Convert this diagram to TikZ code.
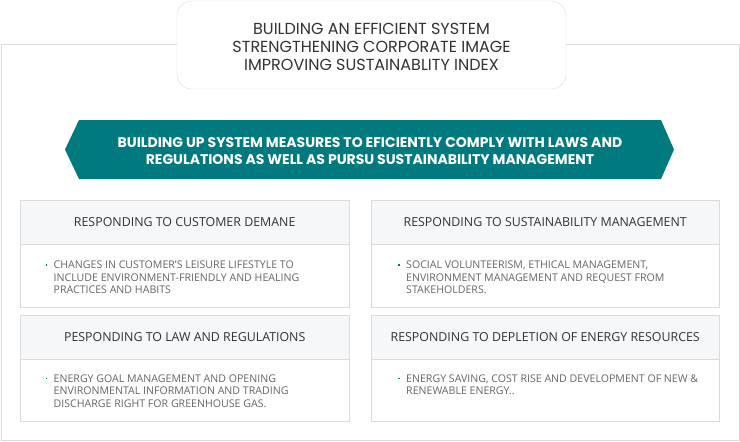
\documentclass[tikz,border=0pt]{standalone}
\usepackage{fontspec}
\setmainfont{Open Sans}
\newfontfamily\goalfont{Poppins}
\usetikzlibrary{positioning}

\definecolor{framegray}{HTML}{DADBDE}
\definecolor{headfill}{HTML}{F6F7F9}
\definecolor{bannerteal}{HTML}{007A7E}
\definecolor{headtext}{HTML}{333333}
\definecolor{bodytext}{HTML}{666666}

\tikzset{
  goalbox/.style={draw=framegray, fill=white, rounded corners=15pt, minimum width=389pt,
    minimum height=88pt},
  goaltext/.style={align=center, text=headtext, font=\goalfont\fontsize{16}{18}\selectfont},
  headbox/.style={draw=framegray, fill=headfill, minimum width=329pt, minimum height=44pt,
    anchor=north west, text=headtext, font=\fontsize{12.4}{14}\selectfont},
  bodybox/.style={draw=framegray, fill=white, minimum width=329pt, minimum height=63pt,
    anchor=north west},
  bodytxt/.style={anchor=north west, inner sep=0pt, align=left, text=bodytext,
    font=\fontsize{10.6}{12.5}\selectfont},
  dot/.style={fill=bannerteal, inner sep=0pt, minimum size=1.8pt}
}

\begin{document}
\begin{tikzpicture}[x=1pt,y=-1pt]
      \useasboundingbox (0,0) rectangle (740,442);

      % outer frame and the goal box on its top edge
      \draw[color=framegray] (1,44.5) rectangle (739,440.5);
      \node[goalbox] (goal) at (371.5,45) {};
      \node[goaltext] (goaltxt) at (371.5,46.5) {BUILDING AN EFFICIENT SYSTEM\\
        STRENGTHENING CORPORATE IMAGE\\ IMPROVING SUSTAINABLITY INDEX};

      % banner
      \fill[color=bannerteal] (65,149.5) -- (79,120) -- (661,120) -- (674,149.5) -- (661,179) -- (79,179) -- cycle;
      \node[text=white, align=center, font=\goalfont\bfseries\fontsize{14}{17}\selectfont] (measures) at (370,151)
        {BUILDING UP SYSTEM MEASURES TO EFICIENTLY COMPLY WITH LAWS AND\\
         REGULATIONS AS WELL AS PURSU SUSTAINABILITY MANAGEMENT};

      % four fields
      \node[bodybox] (custbody) at (20,244) {};
      \node[headbox] (cust) at (20,200) {RESPONDING TO CUSTOMER DEMANE};
      \node[dot] (custdot) at (46.5,265) {};
      \node[bodytxt] (custtxt) at (53.5,261) {CHANGES IN CUSTOMER'S LEISURE LIFESTYLE TO\\
        INCLUDE ENVIRONMENT-FRIENDLY AND HEALING\\ PRACTICES AND HABITS};

      \node[bodybox, minimum width=348pt] (sustbody) at (371,244) {};
      \node[headbox, minimum width=348pt] (sust) at (371,200) {RESPONDING TO SUSTAINABILITY MANAGEMENT};
      \node[dot] (sustdot) at (399,265) {};
      \node[bodytxt] (susttxt) at (406,261) {SOCIAL VOLUNTEERISM, ETHICAL MANAGEMENT,\\
        ENVIRONMENT MANAGEMENT AND REQUEST FROM\\ STAKEHOLDERS.};

      \node[bodybox] (lawbody) at (20,358) {};
      \node[headbox] (law) at (20,315) {PESPONDING TO LAW AND REGULATIONS};
      \node[dot] (lawdot) at (46.5,378.5) {};
      \node[bodytxt] (lawtxt) at (53.5,374.5) {ENERGY GOAL MANAGEMENT AND OPENING\\
        ENVIRONMENTAL INFORMATION AND TRADING\\ DISCHARGE RIGHT FOR GREENHOUSE GAS.};

      \node[bodybox, minimum width=348pt] (energybody) at (371,358) {};
      \node[headbox, minimum width=348pt] (energy) at (371,315) {RESPONDING TO DEPLETION OF ENERGY RESOURCES};
      \node[dot] (energydot) at (399,378.5) {};
      \node[bodytxt] (energytxt) at (406,374.5) {ENERGY SAVING, COST RISE AND DEVELOPMENT OF NEW \&\\
        RENEWABLE ENERGY..};
    \end{tikzpicture}
\end{document}
